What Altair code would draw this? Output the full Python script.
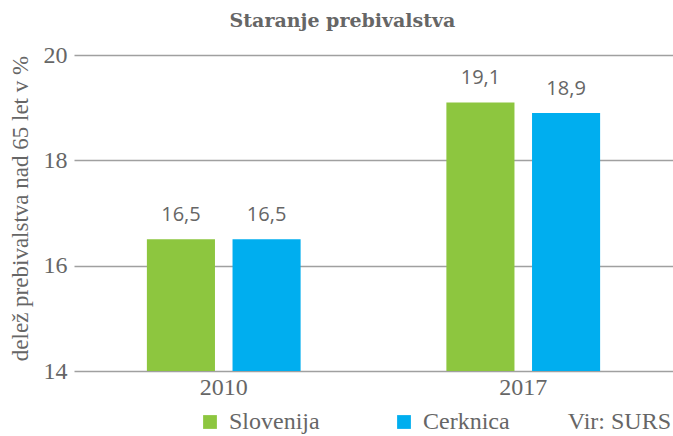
import altair as alt
import pandas as pd

years = ["2010", "2010", "2017", "2017"]
series = ["Slovenija", "Cerknica", "Slovenija", "Cerknica"]
values = [16.5, 16.5, 19.1, 18.9]
series_order = ["Slovenija", "Cerknica"]
colors = ["#8dc63f", "#00aeef"]
y_ticks = [14, 16, 18, 20]
source_text = ["Vir: SURS"]

df = pd.DataFrame({"leto": years, "serija": series, "vrednost": values})
src = pd.DataFrame({"t": source_text})

GREY = "#666666"
SERIF = "'Liberation Serif', 'Times New Roman', serif"

x_enc = alt.X("leto:N", title=None,
              scale=alt.Scale(paddingInner=0, paddingOuter=0),
              axis=alt.Axis(labelAngle=0, labelFont=SERIF, labelFontSize=24,
                            labelColor=GREY, ticks=False, domain=False,
                            labelPadding=4))
xoff = alt.XOffset("serija:N", sort=series_order,
                   scale=alt.Scale(paddingInner=0.205, paddingOuter=0.851))
y_enc = alt.Y("vrednost:Q",
              scale=alt.Scale(domain=[14, 20], zero=False, nice=False),
              axis=alt.Axis(values=y_ticks, title="delež prebivalstva nad 65 let v %",
                            titleFont=SERIF, titleFontSize=23, titleFontWeight="normal",
                            titleColor=GREY, titleAngle=-90, titleX=-54, titleY=153,
                            titleAlign="center", titleBaseline="middle",
                            labelFont=SERIF, labelFontSize=24, labelColor=GREY,
                            ticks=False, domain=False, labelPadding=7,
                            gridColor="#a0a0a0", gridWidth=1.6))

bars = alt.Chart(df).mark_bar().encode(
    x=x_enc, xOffset=xoff, y=y_enc, y2=alt.datum(14),
    color=alt.Color("serija:N", sort=series_order,
                    scale=alt.Scale(domain=series_order, range=colors),
                    legend=alt.Legend(title=None, orient="none", direction="horizontal",
                                      legendX=124, legendY=355, symbolType="square",
                                      symbolSize=190, symbolStrokeWidth=0,
                                      labelFont=SERIF, labelFontSize=24, labelColor=GREY,
                                      labelOffset=7, columnPadding=72)),
)

labels = alt.Chart(df).transform_calculate(
    lbl="replace(format(datum.vrednost, '.1f'), '.', ',')"
).mark_text(font="Open Sans", fontSize=20, color=GREY, baseline="alphabetic", dy=-18).encode(
    x=alt.X("leto:N"), xOffset=alt.XOffset("serija:N", sort=series_order),
    y="vrednost:Q", text="lbl:N",
)

note = alt.Chart(src).mark_text(font=SERIF, fontSize=24, color=GREY, align="right",
                                baseline="alphabetic").encode(
    x=alt.value(597), y=alt.value(374), text="t:N")

chart = alt.layer(bars, labels, note).properties(
    width=599, height=316,
    autosize=alt.AutoSizeParams(type="none"),
    padding={"left": 74, "top": 55, "right": 0, "bottom": 65},
    title=alt.Title("Staranje prebivalstva", font="DejaVu Serif", fontSize=19,
                    fontWeight="bold", color=GREY, anchor="middle", dx=-31, offset=12),
).configure_view(stroke=None)

chart.save("out.html", embed_options={"renderer": "svg", "actions": False})
